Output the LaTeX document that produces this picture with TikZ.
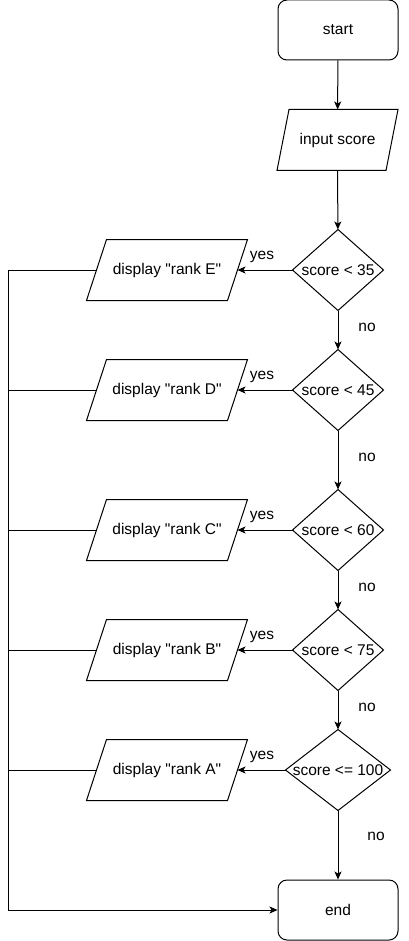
\documentclass[tikz,border=0pt]{standalone}
\usepackage{fontspec}
\setmainfont{Liberation Sans}[Ligatures=TeXOff]
\usetikzlibrary{arrows.meta,calc}
\tikzset{
  base/.style={font=\fontsize{15.5}{18}\selectfont, inner sep=0pt},
  term/.style={base, draw, rounded corners=9pt, minimum width=120pt, minimum height=60pt},
  iobox/.style={base, minimum width=140pt, minimum height=60pt},
  decbox/.style={base, minimum width=90pt, minimum height=80pt},
  lbl/.style={base},
  flow/.style={-{Stealth[length=8pt,width=7pt,inset=2pt]}},
}
\newcommand\ioshape[2]{\draw ([xshift=-#2pt]#1.south west) -- ([xshift=-#2pt]#1.south east) -- ([xshift=#2pt]#1.north east) -- ([xshift=#2pt]#1.north west) -- cycle;}
\newcommand\decshape[1]{\draw (#1.north) -- (#1.east) -- (#1.south) -- (#1.west) -- cycle;}
\begin{document}
\begin{tikzpicture}[x=1pt,y=-1pt,line width=1pt,line join=miter]
\useasboundingbox (0,0) rectangle (409,941);
\node[term] (start) at (338,30) {start};
\node[iobox,minimum width=108pt] (inp) at (337.5,140) {input score};
\ioshape{inp}{6}
\node[decbox] (d1) at (338,270) {score < 35}; \decshape{d1}
\node[decbox] (d2) at (338,390) {score < 45}; \decshape{d2}
\node[decbox] (d3) at (338,530) {score < 60}; \decshape{d3}
\node[decbox] (d4) at (338,650) {score < 75}; \decshape{d4}
\node[decbox,minimum width=104pt] (d5) at (338,770) {score <= 100}; \decshape{d5}
\node[iobox] (rE) at (167,270) {display "rank E"}; \ioshape{rE}{10}
\node[iobox] (rD) at (167,390) {display "rank D"}; \ioshape{rD}{10}
\node[iobox] (rC) at (167,530) {display "rank C"}; \ioshape{rC}{10}
\node[iobox] (rB) at (167,650) {display "rank B"}; \ioshape{rB}{10}
\node[iobox] (rA) at (167,770) {display "rank A"}; \ioshape{rA}{10}
\node[term] (end) at (338,910) {end};
\draw[flow] (start) -- (inp);
\draw[flow] (inp) -- (d1);
\draw[flow] (d1) -- (d2);
\draw[flow] (d2) -- (d3);
\draw[flow] (d3) -- (d4);
\draw[flow] (d4) -- (d5);
\draw[flow] (d5) -- (end);
\draw[flow] (d1.west) -- (rE.east);
\draw[flow] (d2.west) -- (rD.east);
\draw[flow] (d3.west) -- (rC.east);
\draw[flow] (d4.west) -- (rB.east);
\draw[flow] (d5.west) -- (rA.east);
\coordinate (rtop) at (8,270);
\coordinate (rbot) at (8,910);
\draw[flow] (rE.west) -- (rtop) -- (rbot) -- (end.west);
\draw (rD.west) -- (rD.west -| rtop);
\draw (rC.west) -- (rC.west -| rtop);
\draw (rB.west) -- (rB.west -| rtop);
\draw (rA.west) -- (rA.west -| rtop);
\node[lbl] (y1) at (262,257) {yes};
\node[lbl] (y2) at (262,377) {yes};
\node[lbl] (y3) at (262,517) {yes};
\node[lbl] (y4) at (262,637) {yes};
\node[lbl] (y5) at (262,757) {yes};
\node[lbl] (n1) at (367,327) {no};
\node[lbl] (n2) at (367,457) {no};
\node[lbl] (n3) at (367,587) {no};
\node[lbl] (n4) at (367,707) {no};
\node[lbl] (n5) at (376,836) {no};
\end{tikzpicture}
\end{document}
